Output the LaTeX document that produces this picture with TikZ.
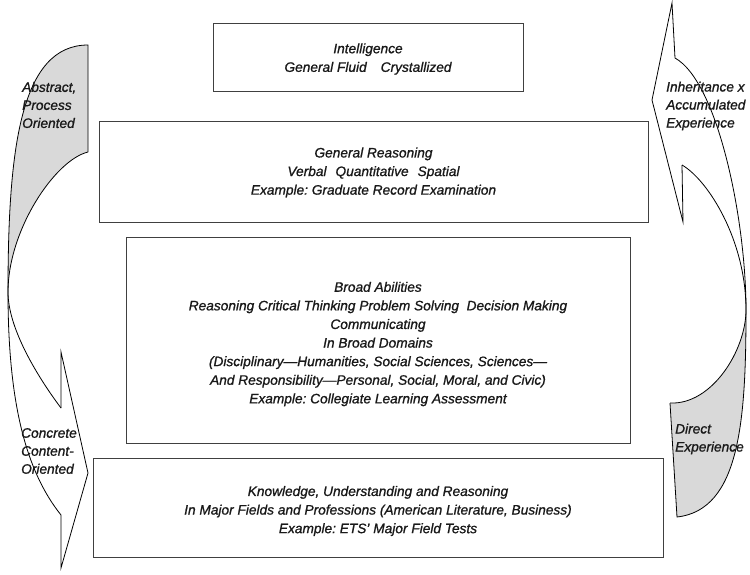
\documentclass[tikz,border=0pt]{standalone}
\usepackage{fontspec}
\setmainfont{Liberation Sans}[ItalicFeatures={FakeBold=1.0}]
\frenchspacing
\begin{document}
\begin{tikzpicture}[x=1pt,y=-1pt,
  box/.style={draw=black!75, line width=1pt, inner sep=0pt},
  boxtext/.style={inner sep=0pt, align=center,
    font=\fontsize{13.7}{18.6}\selectfont\itshape, text=black!90},
  lbl/.style={align=left, inner sep=0pt, anchor=west,
    font=\fontsize{13.7}{18}\selectfont\itshape, text=black!90},
  arrowline/.style={draw=black, line width=0.8pt, line join=miter},
  shade/.style={fill=black!15}]
\useasboundingbox (0,0) rectangle (750,574);

% ---------- left curved arrow ----------
\coordinate (LT1) at (88,45);
\coordinate (LT2) at (88,152);
\coordinate (LX) at (8,292);
\coordinate (LI) at (61,408);
\coordinate (LB1) at (61,352);
\coordinate (Ltip) at (88,473);
\coordinate (LB2) at (61,568);
\coordinate (LO) at (61,515);

\fill[shade] (LT1) .. controls (20,45) and (8,150) .. (LX)
  .. controls (8,230) and (55,160) .. (LT2) -- cycle;
\draw[arrowline] (LT2) -- (LT1) .. controls (20,45) and (8,150) .. (LX)
  .. controls (8,400) and (25,470) .. (LO) -- (LB2) -- (Ltip) -- (LB1) -- (LI);
\draw[arrowline] (LT2) .. controls (55,160) and (8,230) .. (LX)
  .. controls (8,330) and (40,380) .. (LI);

% ---------- right curved arrow ----------
\coordinate (RO) at (675,58);
\coordinate (RBt) at (672,3);
\coordinate (Rtip) at (652,100);
\coordinate (RBb) at (683,222);
\coordinate (RI) at (682,165);
\coordinate (RX) at (746,310);
\coordinate (RTa) at (670,403);
\coordinate (RTb) at (677,517);

\fill[shade] (RX) .. controls (746,420) and (740,510) .. (RTb) -- (RTa)
  .. controls (712,405) and (746,350) .. (RX) -- cycle;
\draw[arrowline] (RI) -- (RBb) -- (Rtip) -- (RBt) -- (RO)
  .. controls (718,82) and (746,220) .. (RX)
  .. controls (746,420) and (740,510) .. (RTb) -- (RTa);
\draw[arrowline] (RI) .. controls (708,180) and (746,240) .. (RX)
  .. controls (746,350) and (712,405) .. (RTa);

% ---------- boxes ----------
\node[box, minimum width=310pt, minimum height=68pt] (b1) at (368,57) {};
\node[box, minimum width=549pt, minimum height=101pt] (b2) at (373.5,171.5) {};
\node[box, minimum width=504pt, minimum height=206pt] (b3) at (378,340) {};
\node[box, minimum width=570pt, minimum height=99pt] (b4) at (378,507.5) {};

\node[boxtext] (t1) at ([yshift=-2pt]b1.center)
  {Intelligence\\General Fluid\hspace{14pt}Crystallized};
\node[boxtext] (t2) at ([yshift=-1pt]b2.center)
  {General Reasoning\\Verbal\hspace{9pt}Quantitative\hspace{9pt}Spatial\\Example: Graduate Record Examination};
\node[boxtext] (t3) at ([yshift=-4pt]b3.center)
  {Broad Abilities\\Reasoning Critical Thinking Problem Solving\ \ Decision Making\\Communicating\\In Broad Domains\\(Disciplinary—Humanities, Social Sciences, Sciences—\\And Responsibility—Personal, Social, Moral, and Civic)\\Example: Collegiate Learning Assessment};
\node[boxtext] (t4) at ([yshift=-3.5pt]b4.center)
  {Knowledge, Understanding and Reasoning\\In Major Fields and Professions (American Literature, Business)\\Example: ETS’ Major Field Tests};

% ---------- labels ----------
\node[lbl] (la) at (22,105) {Abstract,\\Process\\Oriented};
\node[lbl] (lc) at (21,451) {Concrete\\Content-\\Oriented};
\node[lbl] (li) at (666,106) {Inheritance x\\Accumulated\\Experience};
\node[lbl] (ld) at (675,439) {Direct\\Experience};
\end{tikzpicture}
\end{document}
